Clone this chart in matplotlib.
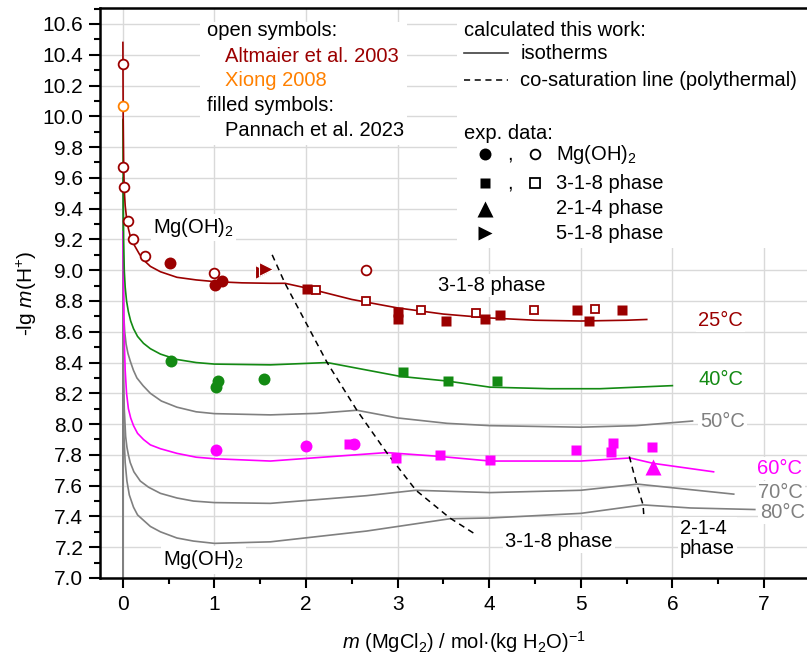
import matplotlib.pyplot as plt
from matplotlib.patches import Rectangle
from matplotlib.ticker import MultipleLocator, FormatStrFormatter

plt.rcParams['font.family'] = ['Liberation Sans', 'DejaVu Sans']
plt.rcParams['mathtext.fontset'] = 'custom'
plt.rcParams['mathtext.rm'] = 'Liberation Sans'
plt.rcParams['mathtext.it'] = 'Liberation Sans:italic'

# colours
c25 = '#9b0000'
c40 = '#138a13'
c60 = '#ff00ff'
cgray = '#808080'
corange = '#ff8000'

# calculated isotherms (m MgCl2, -lg m(H+))
t25_x = [0, 0.003, 0.008, 0.015, 0.025, 0.04, 0.06, 0.09, 0.134, 0.18, 0.225, 0.3, 0.41, 0.59, 0.8,
         1.0, 1.3, 1.61, 1.77, 2.0, 2.5, 3.0, 3.5, 4.0, 4.5, 5.0, 5.5, 5.72]
t25_y = [10.48, 10.0, 9.7, 9.52, 9.42, 9.34, 9.27, 9.2, 9.153, 9.105, 9.067, 9.025, 8.99, 8.954, 8.937,
         8.926, 8.918, 8.915, 8.915, 8.885, 8.81, 8.755, 8.715, 8.69, 8.675, 8.67, 8.675, 8.68]
t40_x = [0, 0.003, 0.008, 0.015, 0.025, 0.04, 0.06, 0.085, 0.116, 0.16, 0.225, 0.3, 0.41, 0.59, 0.8,
         1.0, 1.61, 2.23, 3.03, 3.54, 4.01, 4.66, 5.21, 6.0]
t40_y = [9.98, 9.55, 9.2, 9.0, 8.89, 8.80, 8.73, 8.67, 8.62, 8.57, 8.525, 8.49, 8.455, 8.42, 8.40,
         8.39, 8.385, 8.40, 8.31, 8.28, 8.24, 8.23, 8.23, 8.25]
t50_x = [0, 0.0005, 0.004, 0.01, 0.02, 0.035, 0.055, 0.08, 0.115, 0.153, 0.22, 0.3, 0.42, 0.59, 0.8,
         1.0, 1.61, 2.12, 2.555, 3.0, 3.54, 4.01, 5.0, 5.6, 6.22]
t50_y = [7.0, 9.6, 9.0, 8.7, 8.6, 8.52, 8.46, 8.41, 8.35, 8.30, 8.25, 8.20, 8.15, 8.11, 8.08,
         8.068, 8.06, 8.07, 8.09, 8.04, 8.005, 7.99, 7.98, 7.99, 8.02]
t60_x = [0, 0.005, 0.012, 0.025, 0.04, 0.06, 0.085, 0.116, 0.16, 0.225, 0.3, 0.41, 0.59, 0.8, 1.0,
         1.61, 2.3, 2.88, 3.46, 4.01, 5.0, 5.54, 5.79, 6.45]
t60_y = [9.25, 9.0, 8.6, 8.35, 8.2, 8.1, 8.04, 7.99, 7.94, 7.90, 7.865, 7.84, 7.81, 7.785, 7.775,
         7.76, 7.79, 7.815, 7.79, 7.76, 7.76, 7.78, 7.745, 7.69]
t70_x = [0, 0.0005, 0.005, 0.015, 0.03, 0.044, 0.06, 0.08, 0.12, 0.19, 0.28, 0.41, 0.59, 0.77, 1.0,
         1.61, 2.66, 3.2, 4.01, 5.0, 5.62, 6.67]
t70_y = [7.0, 9.0, 8.4, 8.1, 7.92, 7.85, 7.80, 7.75, 7.69, 7.63, 7.59, 7.55, 7.52, 7.50, 7.49,
         7.485, 7.535, 7.57, 7.555, 7.57, 7.61, 7.545]
t80_x = [0, 0.0005, 0.005, 0.012, 0.025, 0.044, 0.07, 0.116, 0.16, 0.225, 0.3, 0.41, 0.59, 0.77, 1.0,
         1.61, 2.66, 3.57, 4.01, 5.0, 5.68, 6.2, 6.9]
t80_y = [7.0, 8.8, 8.2, 7.92, 7.75, 7.63, 7.54, 7.46, 7.41, 7.375, 7.335, 7.30, 7.26, 7.24, 7.225,
         7.235, 7.305, 7.385, 7.39, 7.42, 7.475, 7.455, 7.445]

# co-saturation lines (polythermal)
cos318_x = [1.63, 1.77, 2.23, 2.555, 2.88, 3.2, 3.57, 3.86]
cos318_y = [9.10, 8.915, 8.40, 8.09, 7.815, 7.57, 7.39, 7.28]
cos214_x = [5.53, 5.61, 5.68, 5.69]
cos214_y = [7.79, 7.61, 7.475, 7.39]

# Altmaier et al. 2003 (open, 25 C)
alt_circ_x = [0, 0, 0.01, 0.06, 0.105, 0.243, 1.0, 2.66]
alt_circ_y = [10.34, 9.67, 9.54, 9.32, 9.20, 9.09, 8.98, 9.00]
alt_sq_x = [2.11, 2.66, 3.26, 3.86, 4.49, 5.15]
alt_sq_y = [8.87, 8.80, 8.74, 8.72, 8.74, 8.75]
# Xiong 2008
xiong_x = [0]
xiong_y = [10.07]

# Pannach et al. 2023 (filled)
p25_circ_x = [0.51, 1.01, 1.08]
p25_circ_y = [9.05, 8.905, 8.93]
p25_sq_x = [2.01, 3.0, 3.0, 3.53, 3.95, 4.12, 4.96, 5.09, 5.45]
p25_sq_y = [8.88, 8.73, 8.68, 8.67, 8.68, 8.71, 8.74, 8.67, 8.74]
p25_518_x = [1.52, 1.56]
p25_518_y = [8.99, 9.01]
p40_circ_x = [0.527, 1.02, 1.04, 1.54]
p40_circ_y = [8.41, 8.24, 8.28, 8.29]
p40_sq_x = [3.06, 3.55, 4.08]
p40_sq_y = [8.34, 8.28, 8.28]
p60_circ_x = [1.015, 2.0, 2.52]
p60_circ_y = [7.83, 7.86, 7.87]
p60_sq_x = [2.47, 2.98, 3.46, 4.01, 4.95, 5.33, 5.35, 5.78]
p60_sq_y = [7.87, 7.78, 7.80, 7.77, 7.83, 7.82, 7.88, 7.85]
p60_214_x = [5.79]
p60_214_y = [7.72]

fig = plt.figure(figsize=(8.07, 6.55), dpi=100)
ax = fig.add_axes([100 / 807, 77 / 655, 707 / 807, 569.7 / 655])
ax.set_xlim(-0.25, 7.47)
ax.set_ylim(7.0, 10.702)

ax.set_axisbelow(True)
ax.grid(True, which='major', color='#d9d9d9', linewidth=1.0)
ax.xaxis.set_major_locator(MultipleLocator(1))
ax.xaxis.set_minor_locator(MultipleLocator(0.5))
ax.yaxis.set_major_locator(MultipleLocator(0.2))
ax.yaxis.set_minor_locator(MultipleLocator(0.1))
ax.yaxis.set_major_formatter(FormatStrFormatter('%.1f'))
ax.tick_params(which='major', direction='out', length=8, width=1.5, labelsize=15, pad=4)
ax.tick_params(which='minor', direction='out', length=4, width=1.5)
ax.tick_params(axis='x', which='major', length=7, pad=5)
for s in ['left', 'bottom', 'top']:
    ax.spines[s].set_linewidth(1.8)
ax.spines['right'].set_visible(False)

ax.set_ylabel('-lg $m$(H$^{+}$)', fontsize=15)
ax.yaxis.set_label_coords(-0.086, 0.5)
ax.set_xlabel('$m$ (MgCl$_2$) / mol·(kg H$_2$O)$^{-1}$', fontsize=14.5)
ax.xaxis.set_label_coords(0.515, -0.09)

# isotherms
lw = 1.2
ax.plot(t80_x, t80_y, color=cgray, lw=lw, zorder=2)
ax.plot(t70_x, t70_y, color=cgray, lw=lw, zorder=2)
ax.plot(t50_x, t50_y, color=cgray, lw=lw, zorder=2)
ax.plot(t60_x, t60_y, color=c60, lw=lw, zorder=2.1)
ax.plot(t40_x, t40_y, color=c40, lw=lw, zorder=2.1)
ax.plot(t25_x, t25_y, color=c25, lw=lw, zorder=2.1)
ax.plot(cos318_x, cos318_y, color='black', lw=1.1, ls=(0, (4, 3)), zorder=2.2)
ax.plot(cos214_x, cos214_y, color='black', lw=1.1, ls=(0, (4, 3)), zorder=2.2)

# experimental points
ax.plot(p25_circ_x, p25_circ_y, 'o', color=c25, ms=8.6, mec='none', zorder=3)
ax.plot(p25_sq_x, p25_sq_y, 's', color=c25, ms=7.4, mec='none', zorder=3)
ax.plot(p25_518_x, p25_518_y, '>', color=c25, ms=10, mec='white', mew=0.8, zorder=3)
ax.plot(p40_circ_x, p40_circ_y, 'o', color=c40, ms=8.6, mec='none', zorder=3)
ax.plot(p40_sq_x, p40_sq_y, 's', color=c40, ms=7.4, mec='none', zorder=3)
ax.plot(p60_circ_x, p60_circ_y, 'o', color=c60, ms=8.6, mec='none', zorder=3)
ax.plot(p60_sq_x, p60_sq_y, 's', color=c60, ms=7.4, mec='none', zorder=3)
ax.plot(p60_214_x, p60_214_y, '^', color=c60, ms=11, mec='none', zorder=3)
ax.plot(alt_circ_x, alt_circ_y, 'o', mfc='white', mec=c25, ms=7, mew=1.3, zorder=3.1)
ax.plot(alt_sq_x, alt_sq_y, 's', mfc='white', mec=c25, ms=6.3, mew=1.3, zorder=3.1)
ax.plot(xiong_x, xiong_y, 'o', mfc='white', mec=corange, ms=7, mew=1.3, zorder=3.1)

# text labels
fs = 14.5
wbox = dict(facecolor='white', edgecolor='none', pad=1.5)
ax.text(0.334, 9.28, 'Mg(OH)$_2$', fontsize=fs, va='center', bbox=wbox, zorder=4)
ax.text(0.443, 7.117, 'Mg(OH)$_2$', fontsize=fs, va='center', bbox=wbox, zorder=4)
ax.text(4.03, 8.90, '3-1-8 phase', fontsize=fs, ha='center', va='center', bbox=wbox, zorder=4)
ax.text(4.76, 7.236, '3-1-8 phase', fontsize=fs, ha='center', va='center', bbox=wbox, zorder=4)
ax.text(6.08, 7.256, '2-1-4\nphase', fontsize=fs, va='center', linespacing=1.05, bbox=wbox, zorder=4)
ax.text(6.53, 8.672, '25°C', color=c25, fontsize=fs, ha='center', va='center', bbox=wbox, zorder=4)
ax.text(6.53, 8.287, '40°C', color=c40, fontsize=fs, ha='center', va='center', bbox=wbox, zorder=4)
ax.text(6.55, 8.016, '50°C', color=cgray, fontsize=fs, ha='center', va='center', bbox=wbox, zorder=4)
ax.text(7.165, 7.713, '60°C', color=c60, fontsize=fs, ha='center', va='center', bbox=wbox, zorder=4)
ax.text(7.176, 7.557, '70°C', color=cgray, fontsize=fs, ha='center', va='center', bbox=wbox, zorder=4)
ax.text(7.203, 7.427, '80°C', color=cgray, fontsize=fs, ha='center', va='center', bbox=wbox, zorder=4)

# left legend block
ax.add_patch(Rectangle((0.846, 9.814), 2.258, 0.80, facecolor='white', edgecolor='none', zorder=1))
ax.text(0.917, 10.56, 'open symbols:', fontsize=fs, va='center', zorder=4)
ax.text(1.11, 10.39, 'Altmaier et al. 2003', color=c25, fontsize=fs, va='center', zorder=4)
ax.text(1.11, 10.23, 'Xiong 2008', color=corange, fontsize=fs, va='center', zorder=4)
ax.text(0.917, 10.07, 'filled symbols:', fontsize=fs, va='center', zorder=4)
ax.text(1.11, 9.91, 'Pannach et al. 2023', fontsize=fs, va='center', zorder=4)

# right legend block
ax.add_patch(Rectangle((3.65, 9.144), 3.9, 1.6, facecolor='white', edgecolor='none', zorder=1))
ax.text(3.72, 10.556, 'calculated this work:', fontsize=fs, va='center', zorder=4)
ax.plot([3.72, 4.21], [10.41, 10.41], color='#404040', lw=1.2, zorder=4)
ax.text(4.34, 10.41, 'isotherms', fontsize=fs, va='center', zorder=4)
ax.plot([3.72, 4.21], [10.236, 10.236], color='black', lw=1.1, ls=(0, (4, 3)), zorder=4)
ax.text(4.34, 10.236, 'co-saturation line (polythermal)', fontsize=fs, va='center', zorder=4)
ax.text(3.72, 9.89, 'exp. data:', fontsize=fs, va='center', zorder=4)
ax.plot([3.955], [9.753], 'o', color='black', ms=8.6, mec='none', zorder=4)
ax.text(4.23, 9.753, ',', fontsize=fs, ha='center', va='center', zorder=4)
ax.plot([4.50], [9.753], 'o', mfc='white', mec='black', ms=7, mew=1.3, zorder=4)
ax.text(4.73, 9.753, 'Mg(OH)$_2$', fontsize=fs, va='center', zorder=4)
ax.plot([3.955], [9.565], 's', color='black', ms=7.8, mec='none', zorder=4)
ax.text(4.23, 9.565, ',', fontsize=fs, ha='center', va='center', zorder=4)
ax.plot([4.50], [9.565], 's', mfc='white', mec='black', ms=6.5, mew=1.3, zorder=4)
ax.text(4.73, 9.565, '3-1-8 phase', fontsize=fs, va='center', zorder=4)
ax.plot([3.955], [9.40], '^', color='black', ms=11, mec='none', zorder=4)
ax.text(4.73, 9.40, '2-1-4 phase', fontsize=fs, va='center', zorder=4)
ax.plot([3.955], [9.24], '>', color='black', ms=10.5, mec='none', zorder=4)
ax.text(4.73, 9.24, '5-1-8 phase', fontsize=fs, va='center', zorder=4)

fig.savefig('out.png', dpi=100)
